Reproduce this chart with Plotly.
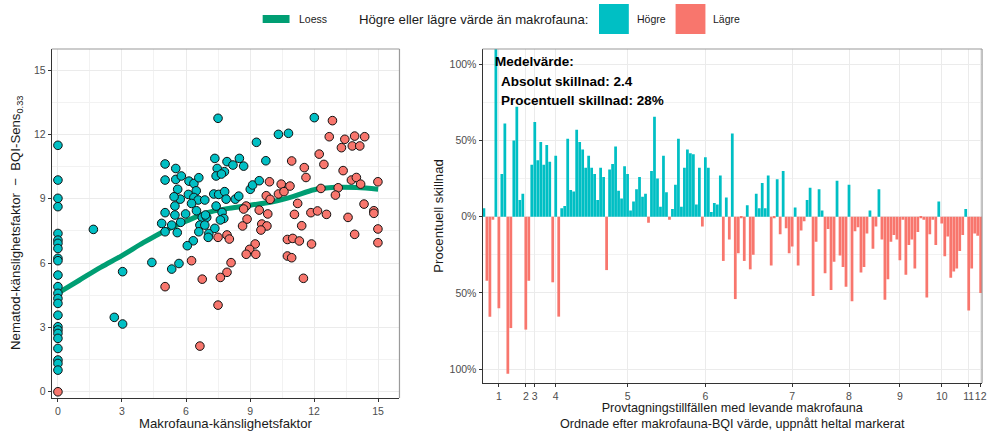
import plotly.graph_objects as go

W, H = 993, 432

# ---------------- data: left panel (scatter) ----------------
# Sampling occasions where nematode sensitivity is higher than macrofauna ("Högre")
hogre_makro = [0, 0, 0, 0, 0, 0, 0, 0, 0, 0, 0, 0, 0, 0, 0, 0, 0, 0, 0, 0, 0, 0, 0, 0,
               1.66, 2.64, 3.03, 3.03,
               7.50, 12.01, 10.33, 10.80, 9.30, 5.02, 7.35, 7.92, 8.50, 8.70, 8.20, 9.74,
               7.46, 7.80, 7.41, 7.66, 5.52, 5.02, 5.52, 5.78, 6.14, 6.37, 6.60, 6.11,
               6.48, 5.61, 5.73, 5.44, 6.37, 6.57, 6.88, 7.30, 7.53, 7.81, 7.88, 8.31,
               8.47, 9.01, 9.12, 9.43, 5.48, 6.26, 6.49, 7.41, 7.69, 5.02, 5.48, 5.98,
               6.76, 6.97, 7.77, 7.61, 4.86, 5.33, 5.75, 6.65, 6.88, 5.02, 5.59, 7.07,
               6.60, 7.35, 7.04, 6.34, 6.06, 4.40, 5.67, 5.33, 6.91]
hogre_nem = [11.49, 9.87, 9.02, 8.63, 7.38, 7.07, 6.92, 6.68, 6.22, 6.11, 5.44, 4.90, 4.59,
             4.35, 4.12, 3.57, 3.03, 2.88, 2.72, 2.49, 2.02, 1.48, 1.32, 1.01,
             7.57, 3.47, 3.16, 5.60,
             12.75, 12.78, 12.00, 12.05, 11.63, 10.62, 10.88, 10.73, 10.88, 10.52, 10.57, 10.77,
             10.41, 10.26, 10.06, 10.15, 10.41, 9.87, 9.90, 10.06, 9.82, 9.71, 9.98, 9.20,
             9.37, 9.44, 8.98, 9.09, 9.06, 8.94, 8.94, 9.22, 9.20, 9.33, 8.98, 8.98,
             9.12, 9.44, 9.64, 9.84, 8.66, 8.78, 8.44, 8.66, 8.36, 8.35, 8.24, 8.29,
             8.13, 8.13, 8.08, 8.01, 7.85, 7.77, 7.90, 7.77, 7.77, 7.46, 7.42, 7.38,
             7.46, 7.62, 7.20, 7.04, 6.81, 6.03, 5.98, 5.72, 8.24]

# Sampling occasions where nematode sensitivity is lower ("Lägre")
lagre_makro = [0, 5.02,
               12.86, 12.71, 13.44, 13.90, 14.37, 13.28, 13.79, 14.14, 12.24, 10.95, 12.46,
               11.54, 13.36, 11.62, 9.91, 10.46, 10.87, 13.75, 13.98, 14.18, 14.99, 12.32,
               13.13, 10.33, 10.59, 9.76, 9.94, 13.00, 8.82, 9.43, 11.23, 8.70, 14.34,
               14.80, 14.80, 11.85, 12.16, 12.58, 13.59, 9.83, 11.08, 8.86, 8.65, 9.55,
               9.79, 9.51, 11.42, 14.99, 13.90, 7.50, 7.92, 8.03, 10.75, 11.00, 11.31,
               11.88, 14.99, 9.24, 8.98, 8.82, 9.27, 10.75, 10.95, 6.26, 8.11, 7.92, 7.61,
               6.76, 11.50, 7.50, 6.65]
lagre_nem = [0.00, 4.90,
             12.64, 11.89, 11.77, 11.92, 11.89, 11.38, 11.46, 11.46, 11.08, 10.76, 10.60,
             10.45, 10.31, 9.99, 9.79, 9.68, 9.59, 9.87, 9.99, 9.68, 9.79, 9.48,
             9.51, 9.22, 9.33, 9.14, 8.97, 9.17, 8.66, 8.47, 8.78, 8.52, 8.75,
             8.44, 8.32, 8.35, 8.43, 8.27, 8.13, 8.29, 8.27, 8.05, 7.73, 7.82,
             7.73, 7.54, 7.74, 7.59, 7.34, 7.20, 7.31, 7.12, 7.10, 7.15, 7.03,
             6.89, 6.95, 6.89, 6.64, 6.41, 6.41, 6.33, 6.25, 6.11, 6.02, 5.57, 5.33,
             5.25, 5.29, 4.04, 2.13]

# Loess fit
loess_x = [0, 1, 2, 3, 4, 5, 6, 7, 8, 9, 10, 11, 12, 13, 14, 15]
loess_y = [4.6, 5.2, 5.8, 6.35, 6.95, 7.5, 7.95, 8.35, 8.55, 8.7, 8.85, 9.1, 9.42, 9.53, 9.52, 9.44]

# ---------------- data: right panel (percentage difference per occasion) ----------------
pct_diff = [
    0.055, -0.42, -0.655, -0.02, 1.60, -0.60, 0.28, 0.61, -1.03, -0.73,
    0.50, 0.72, 0.11, 0.15, -0.74, -0.42, 0.34, 0.62, 0.37, 0.49,
    0.34, 0.47, 0.36, -0.43, 0.40, -0.655, 0.055, 0.07, 0.51, 0.175,
    0.165, 0.57, 0.49, 0.44, 0.32, 0.40, 0.32, 0.28, 0.11, 0.32,
    0.26, -0.35, 0.31, 0.345, 0.46, 0.17, 0.12, 0.33, 0.28, 0.04,
    0.10, 0.18, 0.26, 0.13, 0.15, -0.04, 0.30, 0.655, 0.25, 0.065,
    0.40, 0.16, -0.02, 0.05, 0.21, 0.51, 0.065, 0.32, 0.44, 0.415,
    0.41, 0.08, 0.32, -0.065, 0.39, 0.32, 0.03, 0.09, 0.08, 0.27,
    -0.29, 0.125, -0.15, 0.545, -0.54, -0.24, -0.01, -0.29, 0.075, -0.345,
    -0.25, 0.15, 0.055, 0.22, 0.055, 0.27, -0.32, -0.01, 0.245, -0.115,
    0.30, -0.075, -0.24, -0.195, 0.06, -0.32, -0.09, -0.03, 0.11, 0.19,
    -0.52, -0.165, 0.18, 0.04, -0.37, -0.08, -0.48, -0.295, 0.235, -0.255,
    -0.33, -0.46, 0.21, -0.555, -0.095, -0.07, -0.365, -0.33, -0.11, 0.04,
    -0.21, -0.065, 0.18, -0.15, -0.545, -0.41, -0.165, -0.12, -0.15, -0.285,
    -0.02, -0.38, -0.185, -0.15, -0.34, -0.10, -0.01, -0.02, -0.53, -0.115,
    -0.02, -0.185, 0.10, -0.045, -0.26, -0.13, -0.40, -0.36, -0.34, -0.225,
    -0.12, 0.05, -0.615, -0.34, -0.11, -0.125, -0.50]
occasion = list(range(1, len(pct_diff) + 1))

# occasions where the macrofauna BQI first reaches an integer
int_tick_idx = [6, 15, 18, 25, 49, 75, 104, 123, 140, 154, 163, 167]
int_tick_lbl = ["1", "2", "3", "4", "5", "6", "7", "8", "9", "10", "11", "12"]

pct_tick_vals = [-1, -0.5, 0, 0.5, 1]
pct_tick_lbl = ["100%", "50%", "0%", "50%", "100%"]

# ---------------- style ----------------
TEAL = "#00BFC4"
RED = "#F8766D"
GREEN = "#009E73"
FONT = "Liberation Sans, Arial, Helvetica, sans-serif"
GRID = "#EBEBEB"
GRID_MINOR = "#F2F2F2"
AXIS = "#333333"
TICKTXT = "#4D4D4D"

fig = go.Figure()

fig.add_trace(go.Scatter(x=loess_x, y=loess_y, mode="lines", name="Loess",
                         line=dict(color=GREEN, width=5, shape="spline", smoothing=1.0),
                         xaxis="x", yaxis="y", showlegend=False, hoverinfo="skip"))
fig.add_trace(go.Scatter(x=hogre_makro, y=hogre_nem, mode="markers", name="Högre",
                         marker=dict(size=8.6, color=TEAL, line=dict(color="#111111", width=1)),
                         xaxis="x", yaxis="y", showlegend=False))
fig.add_trace(go.Scatter(x=lagre_makro, y=lagre_nem, mode="markers", name="Lägre",
                         marker=dict(size=8.6, color=RED, line=dict(color="#111111", width=1)),
                         xaxis="x", yaxis="y", showlegend=False))

pos_x = [o for o, v in zip(occasion, pct_diff) if v > 0]
pos_y = [v for v in pct_diff if v > 0]
neg_x = [o for o, v in zip(occasion, pct_diff) if v <= 0]
neg_y = [v for v in pct_diff if v <= 0]
fig.add_trace(go.Bar(x=pos_x, y=pos_y, name="Högre", marker=dict(color=TEAL, line=dict(width=0)),
                     xaxis="x2", yaxis="y2", showlegend=False))
fig.add_trace(go.Bar(x=neg_x, y=neg_y, name="Lägre", marker=dict(color=RED, line=dict(width=0)),
                     xaxis="x2", yaxis="y2", showlegend=False))

ax_common = dict(showline=True, linecolor=AXIS, linewidth=1, ticks="outside", ticklen=3,
                 tickcolor=AXIS, tickwidth=1, tickangle=0,
                 tickfont=dict(size=10.5, color=TICKTXT, family=FONT),
                 zeroline=False, showgrid=True, gridcolor=GRID, gridwidth=1.1, layer="above traces")

L_TOP, L_BOT = 49, 398
R_TOP, R_BOT = 49, 383

fig.update_layout(
    width=W, height=H, margin=dict(l=0, r=0, t=0, b=0),
    paper_bgcolor="white", plot_bgcolor="white",
    font=dict(family=FONT, color="#1a1a1a"),
    barmode="relative", bargap=0.08, showlegend=False,
    xaxis=dict(domain=[52 / W, 401.5 / W], range=[-0.29, 16.0], anchor="y",
               tickmode="array", tickvals=[0, 3, 6, 9, 12, 15],
               minor=dict(tickmode="array", tickvals=[1.5, 4.5, 7.5, 10.5, 13.5],
                          showgrid=True, gridcolor=GRID_MINOR, gridwidth=0.8, ticks=""),
               **ax_common),
    yaxis=dict(domain=[1 - L_BOT / H, 1 - L_TOP / H], range=[-0.29, 15.98], anchor="x",
               tickmode="array", tickvals=[0, 3, 6, 9, 12, 15],
               minor=dict(tickmode="array", tickvals=[1.5, 4.5, 7.5, 10.5, 13.5],
                          showgrid=True, gridcolor=GRID_MINOR, gridwidth=0.8, ticks=""),
               **ax_common),
    xaxis2=dict(domain=[485 / W, 987 / W], range=[0.55, len(pct_diff) + 0.45], anchor="y2",
                tickmode="array", tickvals=int_tick_idx, ticktext=int_tick_lbl,
                **ax_common),
    yaxis2=dict(domain=[1 - R_BOT / H, 1 - R_TOP / H], range=[-1.09, 1.099], anchor="x2",
                tickmode="array", tickvals=pct_tick_vals, ticktext=pct_tick_lbl,
                minor=dict(tickmode="array", tickvals=[-0.75, -0.25, 0.25, 0.75],
                           showgrid=True, gridcolor=GRID_MINOR, gridwidth=0.8, ticks=""),
                **ax_common),
)

BORDER = "#9A9A9A"
shapes = []
for xr, yr in (("x", "y"), ("x2", "y2")):
    shapes.append(dict(type="line", xref=f"{xr} domain", yref=f"{yr} domain",
                       x0=0, x1=1, y0=1, y1=1, line=dict(color=BORDER, width=1.2)))
    shapes.append(dict(type="line", xref=f"{xr} domain", yref=f"{yr} domain",
                       x0=1, x1=1, y0=0, y1=1, line=dict(color=BORDER, width=1.2)))

# manual legend keys
def px_rect(x0, x1, y0, y1, color):
    return dict(type="rect", xref="paper", yref="paper", x0=x0 / W, x1=x1 / W,
                y0=1 - y1 / H, y1=1 - y0 / H, fillcolor=color, line=dict(width=0))

shapes.append(px_rect(264, 291, 15, 23, GREEN))
shapes.append(px_rect(602, 632, 4, 34, TEAL))
shapes.append(px_rect(679, 709, 4, 34, RED))
fig.update_layout(shapes=shapes)

def ann(text, x, y, size, xanchor="left", angle=0, color="#1a1a1a"):
    return dict(text=text, x=x / W, y=1 - y / H, xref="paper", yref="paper",
                xanchor=xanchor, yanchor="middle", showarrow=False, textangle=angle,
                font=dict(size=size, color=color, family=FONT))

annotations = [
    ann("Loess", 299, 19, 10.5),
    ann("Högre eller lägre värde än makrofauna:", 359, 19, 13.2),
    ann("Högre", 638, 19, 10.5),
    ann("Lägre", 715, 19, 10.5),
    ann("Nematod-känslighetsfaktor  −  BQI-Sens<sub>0.33</sub>", 16, 223, 13.2, "center", -90),
    ann("Makrofauna-känslighetsfaktor", 227, 423, 13.2, "center"),
    ann("Procentuell skillnad", 440, 216, 13.2, "center", -90),
    ann("Provtagningstillfällen med levande makrofauna<br>"
        "Ordnade efter makrofauna-BQI värde, uppnått heltal markerat", 736, 416, 12.6, "center"),
    ann("<b>Medelvärde:</b>", 495, 61, 13.5, color="#000000"),
    ann("<b>Absolut skillnad: 2.4</b>", 502, 81, 13.5, color="#000000"),
    ann("<b>Procentuell skillnad: 28%</b>", 502, 100, 13.5, color="#000000"),
]
fig.update_layout(annotations=annotations)

fig.write_html("out.html")
